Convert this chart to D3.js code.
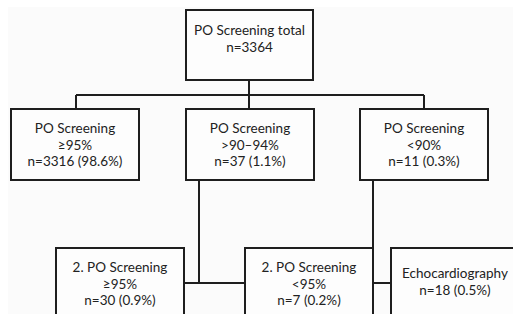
<!DOCTYPE html>
<html lang="en">
<head>
<meta charset="utf-8">
<title>PO Screening flow</title>
<script src="https://d3js.org/d3.v7.min.js"></script>
<style type="text/css">
  html, body { margin: 0; padding: 0; background: #ffffff; }
  #chart text { font-family: "Lato", "Open Sans", sans-serif; fill: #222; }
</style>
</head>
<body>
<div id="chart"></div>
<script>
const nodeNames  = ["PO Screening total", "PO Screening", "PO Screening", "PO Screening",
                    "2. PO Screening", "2. PO Screening", "Echocardiography"];
const nodeRanges = ["", "≥95%", ">90–94%", "<90%", "≥95%", "<95%", ""];
const nodeCounts = [3364, 3316, 37, 11, 30, 7, 18];
const nodePcts   = [null, 98.6, 1.1, 0.3, 0.9, 0.2, 0.5];

// box layout (x, y, w, h, offset of first text line)
const boxes = [
  [186, 10, 127, 70, 20],
  [11, 109, 128, 71, 19],
  [186, 109, 128, 71, 19],
  [360, 109, 128, 71, 19],
  [56, 248, 128, 90, 19],
  [245, 248, 128, 90, 19],
  [391, 248, 128, 90, 25]
];

// connector segments
const links = [
  [[249, 80], [249, 109]],
  [[76, 95], [424, 95]],
  [[76, 95], [76, 109]],
  [[424, 95], [424, 109]],
  [[199, 180], [199, 283]],
  [[184, 283], [245, 283]],
  [[373, 180], [373, 320]],
  [[373, 283], [391, 283]]
];

const W = 513, H = 314;
const svg = d3.select("#chart").append("svg")
  .attr("width", W).attr("height", H);

svg.append("rect")
  .attr("x", 8).attr("y", 7).attr("width", W - 8).attr("height", H - 7)
  .attr("fill", "#fbfbfb");

const line = d3.line();
svg.selectAll("path.link")
  .data(links)
  .join("path")
  .attr("class", "link")
  .attr("d", d => line(d))
  .attr("fill", "none")
  .attr("stroke", "#1e1e1e")
  .attr("stroke-width", 2);

const nodes = nodeNames.map((name, i) => {
  const lines = [name];
  if (nodeRanges[i]) lines.push(nodeRanges[i]);
  lines.push("n=" + nodeCounts[i] + (nodePcts[i] == null ? "" : " (" + nodePcts[i].toFixed(1) + "%)"));
  return { lines, box: boxes[i] };
});

const g = svg.selectAll("g.node")
  .data(nodes)
  .join("g")
  .attr("class", "node")
  .attr("transform", d => `translate(${d.box[0]},${d.box[1]})`);

g.append("rect")
  .attr("width", d => d.box[2])
  .attr("height", d => d.box[3])
  .attr("fill", "#fdfdfd")
  .attr("stroke", "#1e1e1e")
  .attr("stroke-width", 2);

g.each(function(d) {
  d3.select(this).selectAll("text")
    .data(d.lines)
    .join("text")
    .attr("x", d.box[2] / 2)
    .attr("y", (t, j) => d.box[4] + j * 16.5)
    .attr("text-anchor", "middle")
    .attr("dominant-baseline", "central")
    .attr("font-size", 13.5)
    .text(t => t);
});
</script>
</body>
</html>
